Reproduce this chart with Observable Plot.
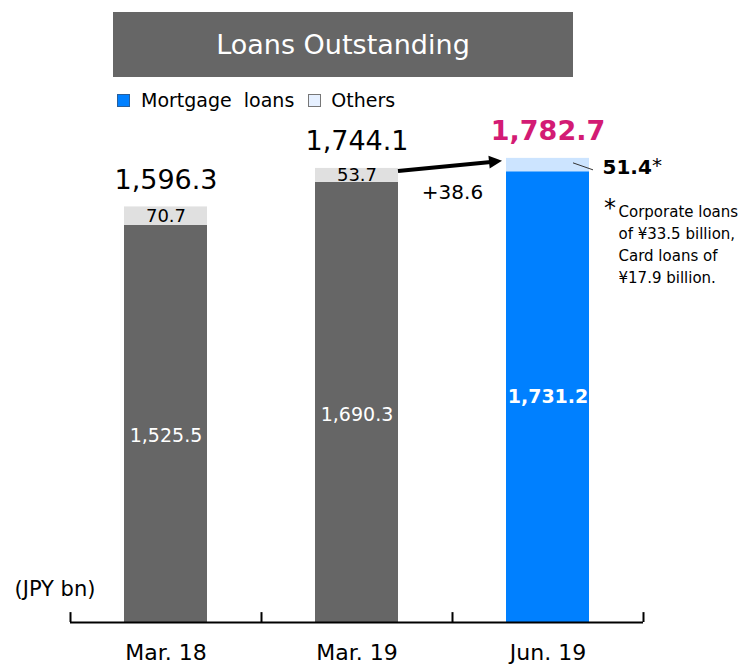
<!DOCTYPE html>
<html>
<head>
<meta charset="utf-8">
<script src="https://cdn.jsdelivr.net/npm/d3@7"></script>
<script src="https://cdn.jsdelivr.net/npm/@observablehq/plot@0.6"></script>
<style>
  html, body { margin: 0; padding: 0; background: #fff; }
  body { width: 742px; height: 667px; font-family: "DejaVu Sans", sans-serif; color: #000; overflow: hidden; }
  #title { margin-left: 113px; margin-top: 12px; width: 460px; height: 65px; background: #666666; color: #fff;
           font-size: 27px; display: flex; align-items: center; justify-content: center; }
  #legend { height: 35px; display: flex; align-items: center; padding-left: 117px; font-size: 19px; box-sizing: border-box; padding-top: 11px; }
  .sw { display: inline-block; width: 13px; height: 13px; box-sizing: border-box; }
  #chart svg { display: block; }
</style>
</head>
<body>
<div id="title">Loans Outstanding</div>
<div id="legend"></div>
<div id="chart"></div>
<script>
// ---- data ----
const categories = ["Mar. 18", "Mar. 19", "Jun. 19"];
const mortgage = [1525.5, 1690.3, 1731.2];
const others = [70.7, 53.7, 51.4];
const totals = [1596.3, 1744.1, 1782.7];
const seriesNames = ["Mortgage  loans", "Others"];
const mortgageColors = ["#666666", "#666666", "#0080FF"];
const othersColors = ["#E0E0E0", "#E0E0E0", "#CCE4FF"];
const footnoteLines = ["Corporate loans", "of ¥33.5 billion,", "Card loans of", "¥17.9 billion."];
const unitLabel = "(JPY bn)";

// legend
const legend = document.getElementById("legend");
legend.innerHTML =
  `<span class="sw" style="background:#0080FF;border:1px solid #2a5f9a"></span>` +
  `<span style="margin-left:11px;white-space:pre">${seriesNames[0]}</span>` +
  `<span class="sw" style="margin-left:14px;background:#E6F0FF;border:1px solid #777"></span>` +
  `<span style="margin-left:10px">${seriesNames[1]}</span>`;

// table for the stacked bars
const rows = [];
categories.forEach((c, i) => {
  rows.push({cat: c, series: "Mortgage", value: mortgage[i], color: mortgageColors[i]});
  rows.push({cat: c, series: "Others", value: others[i], color: othersColors[i]});
});
const idx = categories.map((c, i) => i);

const width = 742, height = 555, marginLeft = 70, marginRight = 99, marginTop = 20, marginBottom = 45;
const step = (width - marginLeft - marginRight) / categories.length;
const ns = "http://www.w3.org/2000/svg";

// leader line from the Jun. 19 "Others" segment to its label
const leader = (index, scales) => {
  const xs = scales.x, ys = scales.y;
  const bw = typeof xs.bandwidth === "function" ? xs.bandwidth() : 83;
  const xr = xs(categories[2]) + bw;
  const yt = ys(totals[2]);
  const l = document.createElementNS(ns, "line");
  l.setAttribute("x1", xr - 16); l.setAttribute("y1", yt + 5);
  l.setAttribute("x2", xr + 4); l.setAttribute("y2", yt + 12);
  l.setAttribute("stroke", "#333"); l.setAttribute("stroke-width", 1);
  return l;
};

// growth arrow with filled head, from Mar. 19 bar to Jun. 19 bar
const growthArrow = (index, scales) => {
  const xs = scales.x, ys = scales.y;
  const bw = typeof xs.bandwidth === "function" ? xs.bandwidth() : 83;
  const x0 = xs(categories[1]) + bw, y0 = ys(totals[1]) + 3;
  const x1 = xs(categories[2]) - 4, y1 = ys(totals[2]) + 3;
  const ang = Math.atan2(y1 - y0, x1 - x0);
  const hl = 13, hw = 6.5;
  const bx = x1 - hl * Math.cos(ang), by = y1 - hl * Math.sin(ang);
  const g = document.createElementNS(ns, "g");
  const l = document.createElementNS(ns, "line");
  l.setAttribute("x1", x0); l.setAttribute("y1", y0);
  l.setAttribute("x2", bx + 2 * Math.cos(ang)); l.setAttribute("y2", by + 2 * Math.sin(ang));
  l.setAttribute("stroke", "black"); l.setAttribute("stroke-width", 4);
  g.appendChild(l);
  const p = document.createElementNS(ns, "polygon");
  const px = -Math.sin(ang), py = Math.cos(ang);
  p.setAttribute("points", `${x1},${y1} ${bx + hw * px},${by + hw * py} ${bx - hw * px},${by - hw * py}`);
  p.setAttribute("fill", "black");
  g.appendChild(p);
  return g;
};

const plot = Plot.plot({
  width, height, marginLeft, marginRight, marginTop, marginBottom,
  style: {fontFamily: "DejaVu Sans, sans-serif", background: "white", overflow: "visible", color: "black"},
  x: {domain: categories, paddingInner: 0.565, paddingOuter: 0.2825, axis: null},
  y: {domain: [0, 1882], axis: null},
  color: {type: "identity"},
  marks: [
    Plot.barY(rows, Plot.stackY({x: "cat", y: "value", fill: "color"})),
    // axis line and ticks
    Plot.ruleY([0], {stroke: "black", strokeWidth: 2}),
    Plot.ruleX(categories, {x: d => d, y1: 0, y2: 38, dx: -step / 2, stroke: "black", strokeWidth: 2}),
    Plot.ruleX([categories[categories.length - 1]], {x: d => d, y1: 0, y2: 38, dx: step / 2, stroke: "black", strokeWidth: 2}),
    Plot.axisX({tickSize: 0, tickPadding: 22, fontSize: 22, label: null, fontWeight: "normal"}),
    // mortgage labels
    Plot.text(idx.slice(0, 2), {x: i => categories[i], y: i => mortgage[i] / 2, text: i => d3.format(",.1f")(mortgage[i]),
      fill: "white", fontSize: 19, dy: 12}),
    Plot.text([2], {x: i => categories[i], y: i => mortgage[i] / 2, text: i => d3.format(",.1f")(mortgage[i]),
      fill: "white", fontSize: 19, fontWeight: "bold"}),
    // others labels
    Plot.text(idx.slice(0, 2), {x: i => categories[i], y: i => mortgage[i] + others[i] / 2, text: i => d3.format(",.1f")(others[i]),
      fill: "black", fontSize: 18}),
    Plot.text([2], {x: i => categories[i], y: i => totals[i], text: i => d3.format(",.1f")(others[i]),
      fill: "black", fontSize: 20, fontWeight: "bold", textAnchor: "start", dx: 54.5, dy: 9}),
    Plot.text([2], {x: i => categories[i], y: i => totals[i], text: () => "*",
      fill: "black", fontSize: 20, textAnchor: "start", dx: 104, dy: 7}),
    leader,
    // totals
    Plot.text(idx.slice(0, 2), {x: i => categories[i], y: i => totals[i], text: i => d3.format(",.1f")(totals[i]),
      fill: "black", fontSize: 27, dy: -27}),
    Plot.text([2], {x: i => categories[i], y: i => totals[i], text: i => d3.format(",.1f")(totals[i]),
      fill: "#D31B74", fontSize: 27, fontWeight: "bold", dy: -27}),
    // growth arrow and its label
    growthArrow,
    Plot.text([0], {x: () => categories[2], y: () => totals[1], text: () => "+" + (totals[2] - totals[1]).toFixed(1),
      dx: -step / 2, dy: 24, fontSize: 20, fill: "black"}),
    // footnote
    Plot.text([2], {x: i => categories[i], y: i => totals[i], text: () => "*",
      fontSize: 24, textAnchor: "start", dx: 56, dy: 50, fill: "black"}),
    Plot.text([2], {x: i => categories[i], y: i => totals[i], text: () => footnoteLines.join("\n"),
      fontSize: 15, textAnchor: "start", lineAnchor: "top", lineHeight: 1.47, dx: 70.5, dy: 43, fill: "black"}),
    // unit label
    Plot.text([unitLabel], {frameAnchor: "bottom-left", text: d => d, textAnchor: "start", dx: -56, dy: -27,
      fontSize: 21, fill: "black"})
  ]
});
document.getElementById("chart").appendChild(plot);
</script>
</body>
</html>
